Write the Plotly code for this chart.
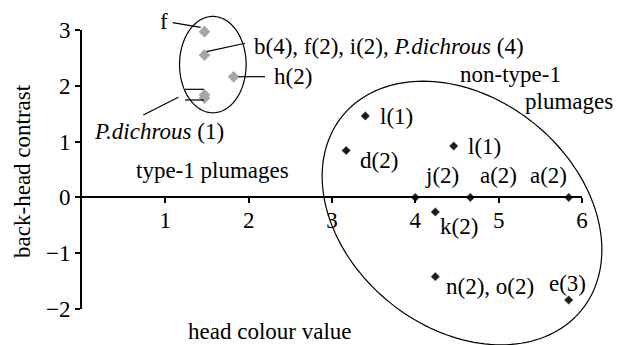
import math
import plotly.graph_objects as go

# Type-1 plumages (grey diamonds)
type1_x = [1.47, 1.47, 1.82, 1.47, 1.47]
type1_y = [2.97, 2.55, 2.16, 1.78, 1.84]

# Non-type-1 plumages (black diamonds)
other_x = [3.40, 4.46, 3.17, 4.00, 4.66, 5.84, 4.24, 4.24, 5.84]
other_y = [1.46, 0.92, 0.84, 0.00, 0.00, 0.00, -0.26, -1.42, -1.84]

x_ticks = [1, 2, 3, 4, 5, 6]
y_ticks = [-2, -1, 0, 1, 2, 3]

X_RANGE = [0, 6]
Y_RANGE = [-2, 3]
W, H = 621, 345
M = dict(l=82, r=39, t=30, b=36, pad=0)
PLOT_W = W - M["l"] - M["r"]
PLOT_H = H - M["t"] - M["b"]
FONT = "Liberation Serif"
FS = 23


def to_paper(x, y):
    return ((x - X_RANGE[0]) / (X_RANGE[1] - X_RANGE[0]),
            (y - Y_RANGE[0]) / (Y_RANGE[1] - Y_RANGE[0]))


def ellipse_path(cx, cy, a_px, b_px, angle_deg, n=160):
    # ellipse centred on a data point, semi-axes in pixels, rotated on screen
    x0, y0 = to_paper(cx, cy)
    th = math.radians(angle_deg)
    parts = []
    for k in range(n + 1):
        t = 2 * math.pi * k / n
        dx = a_px * math.cos(t) * math.cos(th) - b_px * math.sin(t) * math.sin(th)
        dy = a_px * math.cos(t) * math.sin(th) + b_px * math.sin(t) * math.cos(th)
        px, py = x0 + dx / PLOT_W, y0 - dy / PLOT_H
        parts.append(("M" if k == 0 else "L") + f"{px:.5f},{py:.5f}")
    return " ".join(parts) + " Z"


fig = go.Figure()

fig.add_trace(go.Scatter(
    x=type1_x, y=type1_y, mode="markers", cliponaxis=False,
    marker=dict(symbol="diamond", size=9, color="#a6a6a6", line=dict(width=0)),
    showlegend=False, hoverinfo="skip"))

fig.add_trace(go.Scatter(
    x=other_x, y=other_y, mode="markers", cliponaxis=False,
    marker=dict(symbol="diamond", size=6.5, color="#1a1a1a",
                line=dict(width=0.6, color="#555555")),
    showlegend=False, hoverinfo="skip"))

shapes = [
    dict(type="path", xref="paper", yref="paper",
         path=ellipse_path(1.57, 2.38, 33.3, 48.2, 0),
         line=dict(color="black", width=1.2)),
    dict(type="path", xref="paper", yref="paper",
         path=ellipse_path(4.56, -0.28, 154, 115, 39),
         line=dict(color="black", width=1.2)),
]

# leader lines from labels to the grey points
leaders = [
    ((1.088, 3.131), (1.424, 3.048)),
    ((1.956, 2.762), (1.496, 2.611)),
    ((2.196, 2.163), (1.876, 2.163)),
    ((0.736, 1.477), (1.156, 1.794)),
    ((1.236, 1.937), (1.464, 1.937)),
    ((1.236, 1.746), (1.464, 1.746)),
]
for (xa, ya), (xb, yb) in leaders:
    pa, pb = to_paper(xa, ya), to_paper(xb, yb)
    shapes.append(dict(type="line", xref="paper", yref="paper",
                       x0=pa[0], y0=pa[1], x1=pb[0], y1=pb[1],
                       line=dict(color="black", width=1.2)))

labels = [
    ("f", 1.056, 3.149, "right"),
    ("b(4), f(2), i(2), <i>P.dichrous</i> (4)", 2.036, 2.713, "left"),
    ("h(2)", 2.276, 2.163, "left"),
    ("<i>P.dichrous</i> (1)", 0.116, 1.177, "left"),
    ("type-1 plumages", 1.56, 0.491, "center"),
    ("non-type-1", 4.512, 2.194, "left"),
    ("plumages", 5.292, 1.715, "left"),
    ("l(1)", 3.548, 1.446, "left"),
    ("l(1)", 4.608, 0.909, "left"),
    ("d(2)", 3.308, 0.670, "left"),
    ("j(2)", 4.096, 0.401, "left"),
    ("a(2)", 4.756, 0.401, "left"),
    ("a(2)", 5.356, 0.401, "left"),
    ("k(2)", 4.276, -0.525, "left"),
    ("n(2), o(2)", 4.344, -1.600, "left"),
    ("e(3)", 5.576, -1.539, "left"),
]
# paper refs so labels just outside the axis range are still drawn
annotations = []
for t, x, y, xa in labels:
    px, py = to_paper(x, y)
    annotations.append(dict(text=t, x=px, y=py, xref="paper", yref="paper",
                            xanchor=xa, yanchor="middle", showarrow=False,
                            font=dict(family=FONT, size=FS, color="black")))

annotations.append(dict(text="head colour value", x=0.374, y=-0.080,
                        xref="paper", yref="paper", showarrow=False,
                        xanchor="center", yanchor="middle",
                        font=dict(family=FONT, size=FS, color="black")))
annotations.append(dict(text="back-head contrast", x=-0.118, y=0.495,
                        xref="paper", yref="paper", showarrow=False,
                        textangle=-90, xanchor="center", yanchor="middle",
                        font=dict(family=FONT, size=FS, color="black")))

fig.update_layout(
    width=W, height=H, margin=M,
    paper_bgcolor="white", plot_bgcolor="white",
    font=dict(family=FONT, size=FS, color="black"),
    shapes=shapes, annotations=annotations,
    xaxis=dict(range=X_RANGE, tickvals=x_ticks, showgrid=False, zeroline=False,
               showline=True, linecolor="black", linewidth=2,
               ticks="outside", ticklen=5, tickwidth=2, tickcolor="black",
               ticklabelstandoff=-3,
               anchor="free", position=0.4, automargin=False),
    yaxis=dict(range=Y_RANGE, tickvals=y_ticks, showgrid=False, zeroline=False,
               showline=True, linecolor="black", linewidth=2,
               ticks="outside", ticklen=5, tickwidth=2, tickcolor="black",
               automargin=False),
)

# the page body has a default 8px margin; drop it so the figure sits at 0,0
fig.write_html("out.html", config={"displayModeBar": False},
               post_script="document.body.style.margin='0';")
